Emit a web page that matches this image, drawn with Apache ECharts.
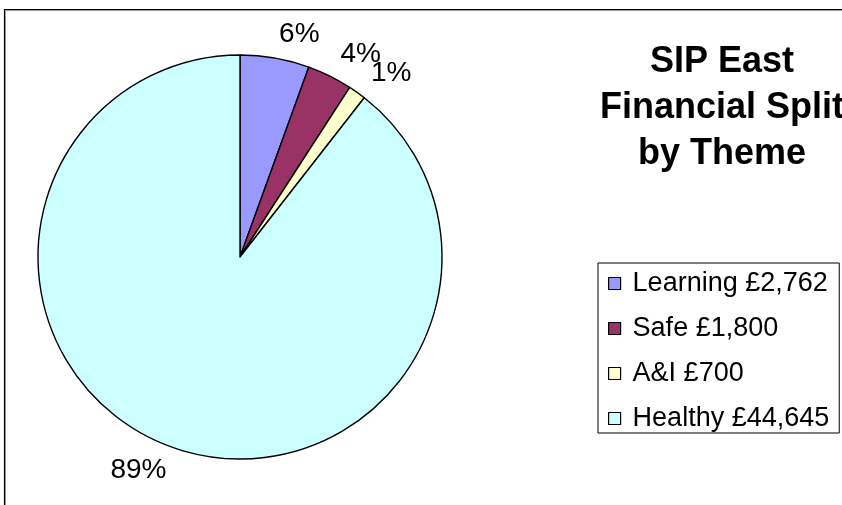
<!DOCTYPE html>
<html>
<head>
<meta charset="utf-8">
<script src="https://cdn.jsdelivr.net/npm/echarts@6/dist/echarts.min.js"></script>
<style>
html,body{margin:0;padding:0;background:#fff;}
#chart{width:842px;height:505px;}
</style>
</head>
<body>
<div id="chart"></div>
<script>
const categories = ['Learning £2,762', 'Safe £1,800', 'A&I £700', 'Healthy £44,645'];
const values = [2762, 1800, 700, 44645];
const colors = ['#9999FF', '#993366', '#FFFFCC', '#CCFFFF'];
const titleText = 'SIP East\nFinancial Split\nby Theme';

const total = values.reduce((a, b) => a + b, 0);
const FONT = '"Liberation Sans", Arial, sans-serif';

const chart = echarts.init(document.getElementById('chart'), null, {renderer: 'canvas'});
chart.setOption({
  animation: false,
  backgroundColor: '#ffffff',
  graphic: [
    {type: 'polyline', shape: {points: [[4.5, 505], [4.5, 9.5], [842, 9.5]]}, style: {stroke: '#000', lineWidth: 1.2, fill: null}},
    {type: 'polyline', shape: {points: [[5.5, 505], [5.5, 10.5], [842, 10.5]]}, style: {stroke: '#999', lineWidth: 1, fill: null}},
    {type: 'text', x: 722, y: 39, style: {text: titleText, font: 'bold 36px ' + FONT, fill: '#000', textAlign: 'center', textVerticalAlign: 'top', lineHeight: 46}}
  ],
  legend: {
    orient: 'vertical',
    left: 598,
    top: 263,
    padding: [7, 10, 1, 10],
    itemWidth: 12,
    itemHeight: 12,
    itemGap: 18,
    icon: 'rect',
    borderColor: '#000',
    borderWidth: 1,
    itemStyle: {borderColor: '#000', borderWidth: 1.2},
    textStyle: {fontFamily: FONT, fontSize: 27, color: '#000', padding: [0, 0, 0, 7]},
    data: categories
  },
  series: [{
    type: 'pie',
    center: [240, 257],
    radius: 202,
    startAngle: 90,
    clockwise: true,
    avoidLabelOverlap: false,
    silent: true,
    itemStyle: {borderColor: '#000', borderWidth: 1.4},
    label: {
      show: true,
      position: 'outside',
      fontFamily: FONT,
      fontSize: 28,
      color: '#000',
      distanceToLabelLine: 0,
      formatter: p => Math.round(p.value / total * 100) + '%'
    },
    labelLine: {show: false, length: 24, length2: 0},
    labelLayout: {hideOverlap: false},
    emphasis: {disabled: true},
    data: categories.map((c, i) => ({name: c, value: values[i], itemStyle: {color: colors[i]}}))
  }]
});
</script>
</body>
</html>
